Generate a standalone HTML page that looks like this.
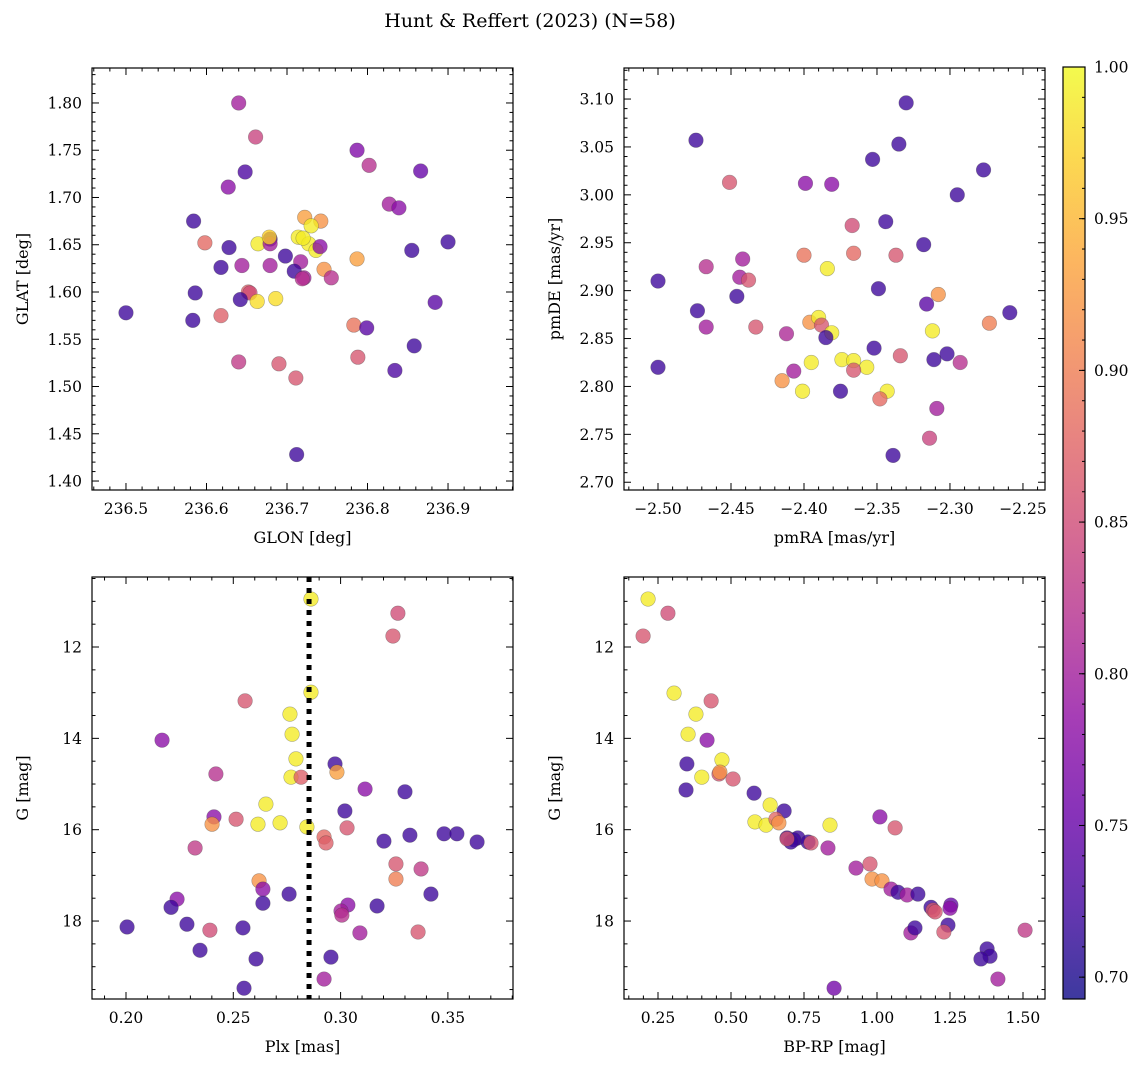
<!DOCTYPE html>
<html><head><meta charset="utf-8">
<style>
html,body{margin:0;padding:0;background:#fff;}
svg{display:block;font-family:"DejaVu Serif","Liberation Serif",serif;}
</style></head>
<body>
<svg id="chart" width="1148" height="1067" viewBox="0 0 1148 1067" xmlns="http://www.w3.org/2000/svg">
<defs>
<linearGradient id="plasma" x1="0" y1="1" x2="0" y2="0">
<stop offset="0" stop-color="#0d0887"/><stop offset="0.1" stop-color="#41049d"/><stop offset="0.2" stop-color="#6a00a8"/><stop offset="0.3" stop-color="#8f0da4"/><stop offset="0.4" stop-color="#b12a90"/><stop offset="0.5" stop-color="#cc4778"/><stop offset="0.6" stop-color="#e16462"/><stop offset="0.7" stop-color="#f2844b"/><stop offset="0.8" stop-color="#fca636"/><stop offset="0.9" stop-color="#fcce25"/><stop offset="1" stop-color="#f0f921"/>
</linearGradient>
</defs>
<text x="530" y="27" font-size="19" text-anchor="middle">Hunt &amp; Reffert (2023) (N=58)</text>
</svg>
<script>
// ---- Panel 1: GLON / GLAT ----
const glon = [236.640,236.661,236.787,236.802,236.648,236.866,236.627,236.827,236.839,236.584,236.722,236.742,236.730,236.679,236.714,236.727,236.736,236.720,236.741,236.664,236.855,236.598,236.628,236.698,236.900,236.679,236.717,236.618,236.644,236.746,236.787,236.709,236.721,236.719,236.755,236.652,236.654,236.586,236.686,236.663,236.642,236.500,236.583,236.618,236.884,236.783,236.799,236.788,236.640,236.690,236.711,236.858,236.834,236.712,236.679,236.678];
const glat = [1.800,1.764,1.750,1.734,1.727,1.728,1.711,1.693,1.689,1.675,1.679,1.675,1.670,1.656,1.658,1.651,1.644,1.657,1.648,1.651,1.644,1.652,1.647,1.638,1.653,1.651,1.632,1.626,1.628,1.624,1.635,1.622,1.615,1.614,1.615,1.600,1.599,1.599,1.593,1.590,1.592,1.578,1.570,1.575,1.589,1.565,1.562,1.531,1.526,1.524,1.509,1.543,1.517,1.428,1.628,1.658];
const prob1 = [0.80,0.84,0.77,0.82,0.73,0.75,0.78,0.80,0.78,0.72,0.93,0.92,0.99,0.72,0.99,0.99,0.99,0.99,0.78,0.99,0.72,0.88,0.72,0.72,0.72,0.80,0.80,0.72,0.80,0.92,0.93,0.72,0.80,0.82,0.82,0.87,0.85,0.72,0.98,0.98,0.72,0.72,0.72,0.87,0.74,0.89,0.74,0.86,0.83,0.86,0.86,0.72,0.73,0.72,0.80,0.97];
// ---- Panel 2: pmRA / pmDE ----
const pmra = [-2.330,-2.474,-2.335,-2.353,-2.277,-2.451,-2.399,-2.381,-2.295,-2.344,-2.367,-2.318,-2.442,-2.400,-2.366,-2.337,-2.500,-2.467,-2.384,-2.444,-2.438,-2.349,-2.308,-2.446,-2.316,-2.473,-2.259,-2.273,-2.396,-2.390,-2.388,-2.381,-2.385,-2.467,-2.433,-2.412,-2.312,-2.352,-2.334,-2.311,-2.302,-2.293,-2.395,-2.374,-2.366,-2.357,-2.366,-2.407,-2.415,-2.401,-2.375,-2.343,-2.348,-2.309,-2.314,-2.339,-2.500];
const pmde = [3.096,3.057,3.053,3.037,3.026,3.013,3.012,3.011,3.000,2.972,2.968,2.948,2.933,2.937,2.939,2.937,2.910,2.925,2.923,2.914,2.911,2.902,2.896,2.894,2.886,2.879,2.877,2.866,2.867,2.872,2.864,2.856,2.851,2.862,2.862,2.855,2.858,2.840,2.832,2.828,2.834,2.825,2.825,2.828,2.827,2.820,2.817,2.816,2.806,2.795,2.795,2.795,2.787,2.777,2.746,2.728,2.820];
const prob2 = [0.72,0.72,0.72,0.72,0.72,0.86,0.78,0.78,0.72,0.72,0.85,0.72,0.80,0.89,0.88,0.86,0.72,0.82,0.99,0.80,0.86,0.72,0.92,0.72,0.74,0.72,0.72,0.90,0.92,0.99,0.86,0.99,0.72,0.80,0.86,0.81,0.99,0.72,0.86,0.72,0.72,0.82,0.99,0.99,0.99,0.99,0.86,0.80,0.92,0.99,0.72,0.99,0.88,0.80,0.84,0.72,0.72];
// ---- Panel 3: Plx / G ----
const plx = [0.2862,0.3267,0.3244,0.2862,0.2555,0.2764,0.2774,0.2168,0.2792,0.2974,0.2983,0.2419,0.2769,0.2816,0.3300,0.3114,0.2652,0.3020,0.2410,0.2401,0.2513,0.2615,0.2718,0.2843,0.3030,0.2923,0.2932,0.3202,0.3323,0.3482,0.3542,0.3636,0.2322,0.3258,0.3375,0.3258,0.2620,0.2638,0.2760,0.3421,0.2238,0.2210,0.2638,0.3034,0.3170,0.3002,0.3006,0.2005,0.2284,0.2391,0.2545,0.3090,0.3361,0.2345,0.2606,0.2955,0.2923,0.2550];
const gmag3 = [10.95,11.26,11.76,12.99,13.18,13.47,13.91,14.04,14.45,14.56,14.74,14.78,14.85,14.85,15.17,15.11,15.44,15.59,15.72,15.88,15.77,15.88,15.85,15.94,15.96,16.16,16.29,16.25,16.12,16.09,16.09,16.27,16.40,16.75,16.86,17.08,17.12,17.30,17.41,17.41,17.52,17.70,17.61,17.65,17.67,17.78,17.87,18.13,18.07,18.20,18.15,18.26,18.24,18.64,18.83,18.79,19.27,19.47];
const prob3 = [0.99,0.85,0.86,0.99,0.86,0.99,0.99,0.78,0.99,0.72,0.93,0.82,0.99,0.87,0.72,0.78,0.99,0.72,0.78,0.92,0.86,0.99,0.99,0.99,0.86,0.88,0.87,0.72,0.72,0.72,0.72,0.72,0.83,0.86,0.83,0.90,0.92,0.78,0.72,0.72,0.78,0.72,0.72,0.78,0.72,0.80,0.82,0.72,0.72,0.85,0.72,0.80,0.86,0.72,0.72,0.72,0.80,0.72];
const plxLine = 0.2853;
// ---- Panel 4: BP-RP / G ----
const bprp = [0.199,0.216,0.284,0.305,0.432,0.380,0.353,0.418,0.349,0.400,0.459,0.469,0.462,0.507,0.346,0.579,0.634,0.682,0.582,0.620,0.654,0.664,0.839,1.010,1.062,0.692,0.729,0.715,0.705,0.692,0.764,0.774,0.832,0.928,0.976,0.983,1.017,1.048,1.072,1.103,1.140,1.185,1.192,1.199,1.253,1.250,1.116,1.130,1.243,1.229,1.507,1.377,1.387,1.356,1.414,0.853];
const gmag4 = [11.76,10.95,11.26,13.01,13.18,13.47,13.91,14.04,14.56,14.85,14.78,14.47,14.74,14.89,15.13,15.20,15.46,15.59,15.83,15.90,15.77,15.85,15.90,15.72,15.96,16.18,16.18,16.22,16.27,16.20,16.27,16.29,16.40,16.84,16.75,17.08,17.12,17.30,17.37,17.43,17.41,17.70,17.76,17.80,17.65,17.72,18.26,18.15,18.09,18.24,18.20,18.61,18.77,18.83,19.27,19.47];
const prob4 = [0.86,0.99,0.85,0.99,0.86,0.99,0.99,0.78,0.72,0.99,0.86,0.99,0.92,0.86,0.72,0.72,0.99,0.72,0.99,0.99,0.88,0.92,0.99,0.78,0.86,0.72,0.72,0.72,0.72,0.86,0.72,0.86,0.80,0.80,0.86,0.92,0.92,0.80,0.72,0.80,0.72,0.72,0.86,0.86,0.75,0.78,0.80,0.72,0.72,0.86,0.83,0.72,0.72,0.72,0.80,0.76];
// ---- Colorbar ----
const cbTicks = [0.70,0.75,0.80,0.85,0.90,0.95,1.00];
const cbMin = 0.6928, cbMax = 1.0;

const NS = "http://www.w3.org/2000/svg";
const svg = document.getElementById('chart');
function mk(tag, attrs, parent){ const e=document.createElementNS(NS,tag); for(const k in attrs) e.setAttribute(k,attrs[k]); (parent||svg).appendChild(e); return e; }
const stops=[[0,[13,8,135]],[0.1,[65,4,157]],[0.2,[106,0,168]],[0.3,[143,13,164]],[0.4,[177,42,144]],[0.5,[204,71,120]],[0.6,[225,100,98]],[0.7,[242,132,75]],[0.8,[252,166,54]],[0.9,[252,206,37]],[1,[240,249,33]]];
function plasma(p){ let t=(p-cbMin)/(cbMax-cbMin); t=Math.max(0,Math.min(1,t));
  for(let i=0;i<stops.length-1;i++){ const a=stops[i],b=stops[i+1]; if(t<=b[0]){ const f=(t-a[0])/(b[0]-a[0]); const c=a[1].map((v,j)=>Math.round(v+(b[1][j]-v)*f)); return `rgb(${c.join(',')})`; } }
  return 'rgb(240,249,33)'; }

const minus = s => s.replace('-', '\u2212');
function panel(cfg){
  const {name,x0,x1,y0,y1,xd,yd,xMajor,xMinor,yMajor,yMinor,xFmt,yFmt,xLabel,yLabel,invertY,xs,ys,ps} = cfg;
  const g = mk('g',{});
  
  
  const sx = v => x0 + (v-xd[0])/(xd[1]-xd[0])*(x1-x0);
  const sy = v => invertY ? y0 + (v-yd[0])/(yd[1]-yd[0])*(y1-y0) : y1 - (v-yd[0])/(yd[1]-yd[0])*(y1-y0);
  const eps=1e-9;
  const tg = mk('g',{stroke:'#000','stroke-width':1},g);
  const xs0 = Math.ceil((xd[0]-eps)/xMinor)*xMinor;
  for(let v=xs0; v<=xd[1]+eps; v+=xMinor){ const px=sx(v); const major=Math.abs(v/xMajor-Math.round(v/xMajor))<1e-6; const L=major?7:3.5;
    mk('line',{x1:px,y1:y1,x2:px,y2:y1-L},tg); mk('line',{x1:px,y1:y0,x2:px,y2:y0+L},tg);
    if(major){ const t=mk('text',{x:px,y:y1+24,'font-size':15.5,'text-anchor':'middle',stroke:'none',fill:'#000'},g); t.textContent=xFmt(v);
        } }
  const lo=Math.min(yd[0],yd[1]), hi=Math.max(yd[0],yd[1]);
  const ys0 = Math.ceil((lo-eps)/yMinor)*yMinor;
  for(let v=ys0; v<=hi+eps; v+=yMinor){ const py=sy(v); const major=Math.abs(v/yMajor-Math.round(v/yMajor))<1e-6; const L=major?7:3.5;
    mk('line',{x1:x0,y1:py,x2:x0+L,y2:py},tg); mk('line',{x1:x1,y1:py,x2:x1-L,y2:py},tg);
    if(major){ const t=mk('text',{x:x0-10,y:py+5.5,'font-size':15.5,'text-anchor':'end',stroke:'none',fill:'#000'},g); t.textContent=yFmt(v);
        } }
  const pg = mk('g',{},g);
  for(let i=0;i<xs.length;i++){
    const c = mk('circle',{cx:sx(xs[i]),cy:sy(ys[i]),r:7.3,fill:plasma(ps[i]),'fill-opacity':0.78,stroke:'rgba(60,60,60,0.4)','stroke-width':0.6},pg);
    
    
  }
  if(cfg.vline!==undefined){ const l=mk('line',{x1:sx(cfg.vline),y1:y0,x2:sx(cfg.vline),y2:y1,stroke:'#000','stroke-width':5,'stroke-dasharray':'5 6'},g);
      }
  mk('rect',{x:x0,y:y0,width:x1-x0,height:y1-y0,fill:'none',stroke:'#000','stroke-width':1.2},g);
  const xl=mk('text',{x:(x0+x1)/2,y:y1+53,'font-size':16,'text-anchor':'middle'},g); xl.textContent=xLabel;
   
  const yx=x0-64, yy=(y0+y1)/2;
  const yl=mk('text',{x:yx,y:yy,'font-size':16,'text-anchor':'middle',transform:`rotate(-90 ${yx} ${yy})`},g); yl.textContent=yLabel;
   
}
const f2 = v=>minus(v.toFixed(2)), f1=v=>v.toFixed(1), f0=v=>v.toFixed(0);
panel({name:'glon-glat-panel',x0:92,x1:513,y0:68,y1:490,xd:[236.4578,236.9807],yd:[1.3905,1.8370],xMajor:0.1,xMinor:0.02,yMajor:0.05,yMinor:0.01,xFmt:f1,yFmt:f2,xLabel:'GLON [deg]',yLabel:'GLAT [deg]',xs:glon,ys:glat,ps:prob1});
panel({name:'proper-motion-panel',x0:624,x1:1045,y0:68,y1:490,xd:[-2.5233,-2.2349],yd:[2.6919,3.1324],xMajor:0.05,xMinor:0.01,yMajor:0.05,yMinor:0.01,xFmt:f2,yFmt:f2,xLabel:'pmRA [mas/yr]',yLabel:'pmDE [mas/yr]',xs:pmra,ys:pmde,ps:prob2});
panel({name:'parallax-magnitude-panel',x0:92,x1:513,y0:577,y1:999,xd:[0.18416,0.38034],yd:[10.467,19.707],invertY:true,xMajor:0.05,xMinor:0.01,yMajor:2,yMinor:0.5,xFmt:f2,yFmt:f0,xLabel:'Plx [mas]',yLabel:'G [mag]',xs:plx,ys:gmag3,ps:prob3,vline:plxLine});
panel({name:'color-magnitude-panel',x0:624,x1:1045,y0:577,y1:999,xd:[0.1336,1.5753],yd:[10.467,19.707],invertY:true,xMajor:0.25,xMinor:0.05,yMajor:2,yMinor:0.5,xFmt:f2,yFmt:f0,xLabel:'BP-RP [mag]',yLabel:'G [mag]',xs:bprp,ys:gmag4,ps:prob4});

const cb = mk('g',{});


const cx0=1063,cx1=1085,cy0=67,cy1=999;
const cyv = v => cy1 - (v-cbMin)/(cbMax-cbMin)*(cy1-cy0);
mk('rect',{x:cx0,y:cy0,width:cx1-cx0,height:cy1-cy0,fill:'url(#plasma)','fill-opacity':0.8,stroke:'none'},cb);
mk('rect',{x:cx0,y:cy0,width:cx1-cx0,height:cy1-cy0,fill:'none',stroke:'#000','stroke-width':1.2},cb);
for(let v=0.70; v<=1.0001; v+=0.01){ mk('line',{x1:cx1,y1:cyv(v),x2:cx1-3,y2:cyv(v),stroke:'#000','stroke-width':1},cb); }
cbTicks.forEach(v=>{ const py=cyv(v);
  mk('line',{x1:cx1,y1:py,x2:cx1-6,y2:py,stroke:'#000','stroke-width':1},cb);
  const t=mk('text',{x:cx1+9,y:py+5.5,'font-size':15.5},cb); t.textContent=v.toFixed(2);
    });
</script>
</body></html>
